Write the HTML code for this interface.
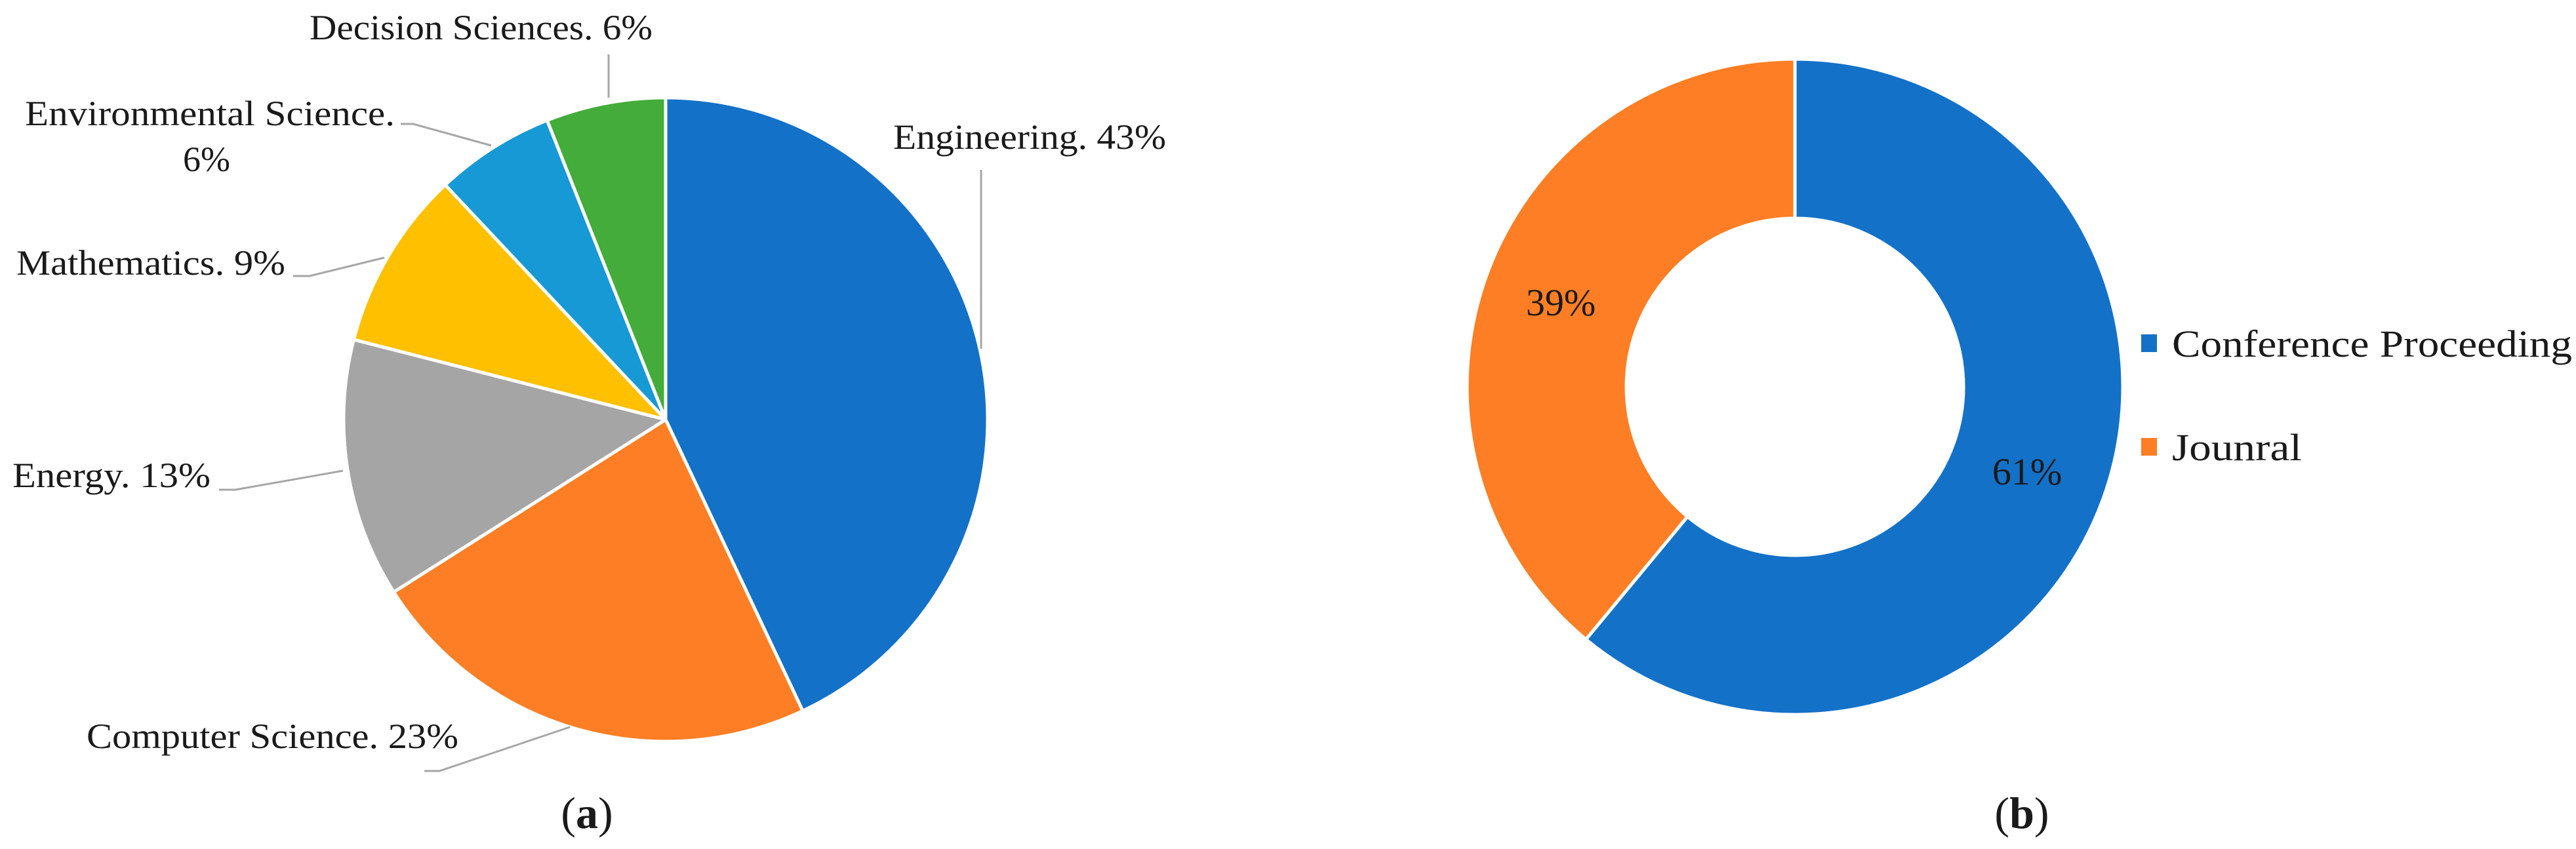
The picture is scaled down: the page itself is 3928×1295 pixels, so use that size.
<!DOCTYPE html>
<html><head><meta charset="utf-8"><style>
html,body{margin:0;padding:0;background:#fff;}
svg{display:block;}
text{font-family:"Liberation Serif",serif;fill:#1a1a1a;}
</style></head><body>
<svg id="chart" width="3928" height="1295" viewBox="0 0 3928 1295" xmlns="http://www.w3.org/2000/svg">
<g id="pieA"></g>
<g id="pieB"></g>
<text x="895" y="1263" font-size="68" text-anchor="middle">(<tspan font-weight="bold">a</tspan>)</text>
<text x="3083" y="1263" font-size="68" text-anchor="middle">(<tspan font-weight="bold">b</tspan>)</text>
</svg>
<script>
const subjects = ["Engineering", "Computer Science", "Energy", "Mathematics", "Environmental Science", "Decision Sciences"];
const subjectShares = [43, 23, 13, 9, 6, 6];
const subjectColors = ["#1471C8", "#FD7E24", "#A5A5A5", "#FFC000", "#1799D5", "#43AC3A"];
const pubTypes = ["Conference Proceeding", "Jounral"];
const pubShares = [61, 39];
const pubColors = ["#1471C8", "#FD7E24"];

const NS = "http://www.w3.org/2000/svg";
function mk(tag, attrs, parent) {
  const e = document.createElementNS(NS, tag);
  for (const k in attrs) e.setAttribute(k, attrs[k]);
  parent.appendChild(e);
  return e;
}
function pt(cx, cy, r, frac) {
  const a = frac * 2 * Math.PI;
  return [cx + r * Math.sin(a), cy - r * Math.cos(a)];
}
function arcPath(cx, cy, r, ri, f0, f1) {
  const large = (f1 - f0) > 0.5 ? 1 : 0;
  const [x0, y0] = pt(cx, cy, r, f0), [x1, y1] = pt(cx, cy, r, f1);
  if (!ri) return `M${cx},${cy} L${x0},${y0} A${r},${r} 0 ${large} 1 ${x1},${y1} Z`;
  const [x2, y2] = pt(cx, cy, ri, f1), [x3, y3] = pt(cx, cy, ri, f0);
  return `M${x0},${y0} A${r},${r} 0 ${large} 1 ${x1},${y1} L${x2},${y2} A${ri},${ri} 0 ${large} 0 ${x3},${y3} Z`;
}

// Pie (a)
const gA = document.getElementById('pieA');
const A = {cx: 1015, cy: 640, r: 491};
const totA = subjectShares.reduce((a, b) => a + b, 0);
let acc = 0;
subjectShares.forEach((v, i) => {
  const f0 = acc / totA, f1 = (acc + v) / totA; acc += v;
  const p = mk('path', {d: arcPath(A.cx, A.cy, A.r, 0, f0, f1), fill: subjectColors[i], stroke: '#fff', 'stroke-width': 5, 'stroke-linejoin': 'round'}, gA);
  
  
});
// label layout (positions only)
const labelLayout = [
  {x: 1362, y: 227, w: 416, lines: null, leader: [[1496, 259], [1496, 532]]},
  {x: 132, y: 1141, w: 567, leader: [[647, 1176], [670, 1176], [869, 1109]]},
  {x: 19, y: 743, w: 302, leader: [[334, 747], [359, 747], [523, 718]]},
  {x: 25, y: 419, w: 410, leader: [[447, 421], [472, 421], [586, 393]]},
  {x: 38, y: 191, w: 564, two: {x: 315, y: 261}, leader: [[611, 189], [630, 189], [749, 222]]},
  {x: 472, y: 60, w: 523, leader: [[928, 83], [928, 149]]}
];
subjects.forEach((s, i) => {
  const L = labelLayout[i];
  const pl = mk('polyline', {points: L.leader.map(p => p.join(',')).join(' '), fill: 'none', stroke: '#A6A6A6', 'stroke-width': 3}, gA);
  
  
  const pct = Math.round(subjectShares[i] / totA * 100) + '%';
  if (L.two) {
    const t = mk('text', {x: L.x, y: L.y, 'font-size': 54, textLength: L.w, lengthAdjust: 'spacingAndGlyphs'}, gA);
    t.textContent = s + '.';
    
    
    const t2 = mk('text', {x: L.two.x, y: L.two.y, 'font-size': 54, 'text-anchor': 'middle'}, gA);
    t2.textContent = pct;
    
    
  } else {
    const t = mk('text', {x: L.x, y: L.y, 'font-size': 54, textLength: L.w, lengthAdjust: 'spacingAndGlyphs'}, gA);
    t.textContent = s + '. ' + pct;
    
    
  }
});

// Donut (b)
const gB = document.getElementById('pieB');
const B = {cx: 2737, cy: 590, r: 500, ri: 257};
const totB = pubShares.reduce((a, b) => a + b, 0);
acc = 0;
const valuePos = [{x: 3091, y: 739}, {x: 2380, y: 481}];
pubShares.forEach((v, i) => {
  const f0 = acc / totB, f1 = (acc + v) / totB; acc += v;
  const p = mk('path', {d: arcPath(B.cx, B.cy, B.r, B.ri, f0, f1), fill: pubColors[i], stroke: '#fff', 'stroke-width': 5, 'stroke-linejoin': 'round'}, gB);
  
  
  const t = mk('text', {x: valuePos[i].x, y: valuePos[i].y, 'font-size': 58, 'text-anchor': 'middle'}, gB);
  t.textContent = Math.round(v / totB * 100) + '%';
  
  
});
// legend
const legendY = [510, 668];
const legendW = [610, 198];
pubTypes.forEach((s, i) => {
  const g = mk('g', {}, gB);
  
  
  const r = mk('rect', {x: 3265, y: legendY[i], width: 24, height: 27, fill: pubColors[i]}, g);
  
  
  const t = mk('text', {x: 3312, y: legendY[i] + 34, 'font-size': 58, textLength: legendW[i], lengthAdjust: 'spacingAndGlyphs'}, g);
  t.textContent = s;
  
  
});
</script>
</body></html>
